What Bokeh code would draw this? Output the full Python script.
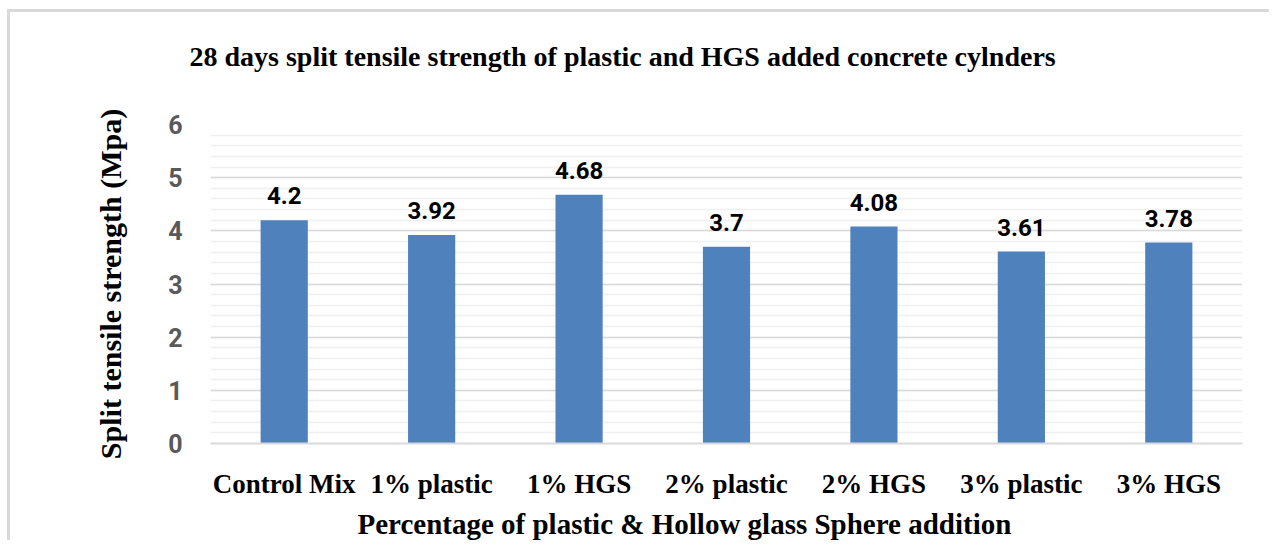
from bokeh.plotting import figure
from bokeh.models import ColumnDataSource, SingleIntervalTicker, Range1d, LabelSet, Title
from bokeh.core.properties import value
from bokeh.embed import file_html
from bokeh.resources import INLINE

categories = ["Control Mix", "1% plastic", "1% HGS", "2% plastic", "2% HGS", "3% plastic", "3% HGS"]
strength = [4.2, 3.92, 4.68, 3.7, 4.08, 3.61, 3.78]
labels = ["4.2", "3.92", "4.68", "3.7", "4.08", "3.61", "3.78"]

src = ColumnDataSource(dict(cat=categories, val=strength, lab=labels))

p = figure(x_range=categories, y_range=Range1d(0, 6), width=1262, height=531,
           output_backend="svg", toolbar_location=None,
           min_border_left=200, min_border_right=30, min_border_top=112, min_border_bottom=98)
p.styles = {"border-top": "3px solid #d9d9d9", "border-left": "3px solid #d9d9d9",
            "margin-left": "7px", "margin-top": "9px"}
p.outline_line_color = None

p.vbar(x="cat", top="val", width=0.32, source=src, fill_color="#4f81bd", line_color=None)

p.add_layout(LabelSet(x="cat", y="val", text="lab", source=src, text_align="center",
                      text_baseline="alphabetic", y_offset=16, text_font=value("Roboto"),
                      text_font_style="bold", text_font_size="24px", text_color="#000000"))

spacer = Title(text=" ", text_font_size="10px", standoff=38)
p.add_layout(spacer, "above")
title = Title(text="28 days split tensile strength of plastic and HGS added concrete cylnders",
              text_font="Liberation Serif", text_font_style="bold", text_font_size="28px",
              text_color="#000000", align="left", offset=-21, standoff=4)
p.add_layout(title, "above")

xlab = Title(text="Percentage of plastic & Hollow glass Sphere addition",
             text_font="Liberation Serif", text_font_style="bold", text_font_size="29px",
             text_color="#000000", align="left", offset=147, standoff=8)
p.add_layout(xlab, "below")

p.yaxis.ticker = SingleIntervalTicker(interval=1, num_minor_ticks=5)
p.yaxis.axis_line_color = None
p.yaxis.major_tick_line_color = None
p.yaxis.minor_tick_line_color = None
p.yaxis.major_tick_out = 0
p.yaxis.minor_tick_out = 0
p.yaxis.major_label_text_font = "Roboto"
p.yaxis.major_label_text_font_style = "bold"
p.yaxis.major_label_text_font_size = "25px"
p.yaxis.major_label_text_color = "#595959"
p.yaxis.major_label_standoff = 28
p.yaxis.axis_label = "Split tensile strength (Mpa)"
p.yaxis.axis_label_text_font = "Liberation Serif"
p.yaxis.axis_label_text_font_style = "bold"
p.yaxis.axis_label_text_font_size = "30px"
p.yaxis.axis_label_text_color = "#000000"
p.yaxis.axis_label_standoff = 38

p.xaxis.axis_line_color = "#d9d9d9"
p.xaxis.axis_line_width = 2
p.xaxis.major_tick_line_color = None
p.xaxis.minor_tick_line_color = None
p.xaxis.major_tick_out = 0
p.xaxis.major_label_text_font = "Liberation Serif"
p.xaxis.major_label_text_font_style = "bold"
p.xaxis.major_label_text_font_size = "27px"
p.xaxis.major_label_text_color = "#000000"
p.xaxis.major_label_standoff = 25

p.xgrid.grid_line_color = None
p.ygrid.grid_line_color = "#d9d9d9"
p.ygrid.grid_line_width = 1.5
p.ygrid.minor_grid_line_color = "#f0f0f0"
p.ygrid.minor_grid_line_width = 1.5

open("out.html", "w").write(file_html(p, INLINE))
